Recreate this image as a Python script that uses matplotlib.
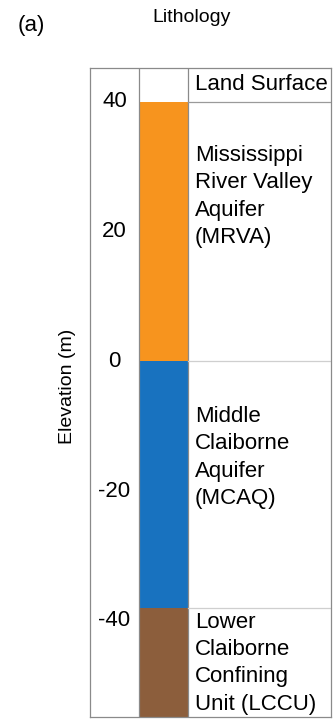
import matplotlib.pyplot as plt
from matplotlib.transforms import blended_transform_factory

plt.rcParams['font.family'] = ['Liberation Sans', 'DejaVu Sans']

# Stratigraphic column (elevations in m)
land_surface = 40
layer_names = ["Mississippi\nRiver Valley\nAquifer\n(MRVA)",
               "Middle\nClaiborne\nAquifer\n(MCAQ)",
               "Lower\nClaiborne\nConfining\nUnit (LCCU)"]
layer_top = [40, 0, -38]
layer_bottom = [0, -38, -55]
layer_colors = ['#F7941E', '#1872BF', '#8C5E3C']
elev_ticks = [40, 20, 0, -20, -40]

# placement of each description block within its cell
label_y = [25.4, -14.8, -46.5]

fig = plt.figure(figsize=(3.34, 7.19), dpi=100)
ax = fig.add_axes([90 / 334, 2 / 719, 241 / 334, 649 / 719])
ax.set_xlim(0, 4.92)
ax.set_ylim(-54.8, 45.2)

# coloured column between x=1 and x=2
for top, bot, col in zip(layer_top, layer_bottom, layer_colors):
    ax.bar(1.5, top - bot, bottom=bot, width=1.0, color=col, linewidth=0)

# column dividers and boundaries
frame_col = '#8a8a8a'
ax.axvline(1, color=frame_col, lw=0.9)
ax.axvline(2, color=frame_col, lw=0.9)
ax.plot([2, 4.92], [land_surface, land_surface], color='#9a9a9a', lw=0.9)
for top in layer_top[1:]:
    ax.plot([2, 4.92], [top, top], color='#cfcfcf', lw=0.9)

for sp in ax.spines.values():
    sp.set_color(frame_col)
    sp.set_linewidth(0.9)
ax.set_xticks([])
ax.set_yticks([])

# elevation labels inside the first column
trans = blended_transform_factory(ax.transData, ax.transData)
for v in elev_ticks:
    ax.text(0.5, v, f'{v}', ha='center', va='center', fontsize=16, transform=trans)

ax.text(2.14, 42.6, 'Land Surface', ha='left', va='center', fontsize=16)
for name, y in zip(layer_names, label_y):
    ax.text(2.14, y, name, ha='left', va='center', fontsize=16, linespacing=1.4)

ax.set_ylabel('Elevation (m)', fontsize=14)
ax.yaxis.set_label_coords(-0.06, 0.51)

fig.text(0.575, 0.975, 'Lithology', ha='center', va='center', fontsize=14)
fig.text(0.093, 0.965, '(a)', ha='center', va='center', fontsize=16)

fig.savefig('out.png', dpi=100)
